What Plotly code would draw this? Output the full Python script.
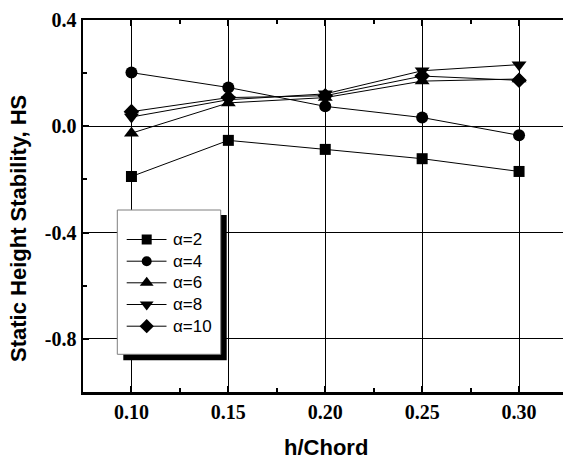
import plotly.graph_objects as go

# ---- data ----
h_chord = [0.10, 0.15, 0.20, 0.25, 0.30]
hs_a2 = [-0.189, -0.053, -0.087, -0.122, -0.170]
hs_a4 = [0.202, 0.146, 0.075, 0.033, -0.034]
hs_a6 = [-0.026, 0.088, 0.108, 0.170, 0.178]
hs_a8 = [0.035, 0.100, 0.122, 0.209, 0.232]
hs_a10 = [0.055, 0.108, 0.115, 0.189, 0.173]

names = ["α=2", "α=4", "α=6", "α=8", "α=10"]
values = [hs_a2, hs_a4, hs_a6, hs_a8, hs_a10]
symbols = ["square", "circle", "triangle-up", "triangle-down", "diamond"]
sizes = [11, 12, 13, 13, 12]
legend_sizes = [10, 10, 12, 12, 11]

x_ticks = [0.10, 0.15, 0.20, 0.25, 0.30]
x_tick_text = ["0.10", "0.15", "0.20", "0.25", "0.30"]
y_ticks = [-0.8, -0.4, 0.0, 0.4]
y_tick_text = ["-0.8", "-0.4", "0.0", "0.4"]

# ---- layout geometry (pixels) ----
W, H = 563, 460
L, R, T, B = 83, 0, 20, 68
PW, PH = W - L - R, H - T - B

fig = go.Figure()
for name, vals, sym, sz in zip(names, values, symbols, sizes):
    fig.add_trace(go.Scatter(
        x=h_chord, y=vals, name=name, mode="lines+markers", showlegend=False,
        line=dict(color="black", width=1),
        marker=dict(symbol=sym, size=sz, color="black"),
    ))

# ---- hand-made legend on an overlay axis measured in pixels ----
box = dict(x0=117.3, x1=220.7, y0=210, y1=354.3)
shadow_off = 6
entry_y = [239.5, 261.2, 282.8, 304.5, 326.2]
line_x0, line_x1, mark_x, text_x = 126.7, 166.5, 146.7, 171

def rect_xy(x0, x1, y0, y1):
    return [x0, x1, x1, x0, x0], [y0, y0, y1, y1, y0]

sx, sy = rect_xy(box["x0"] + shadow_off, box["x1"] + shadow_off,
                 box["y0"] + shadow_off - 1, box["y1"] + shadow_off)
fig.add_trace(go.Scatter(x=sx, y=sy, xaxis="x2", yaxis="y2", mode="lines",
                         fill="toself", fillcolor="black", line=dict(width=0, color="black"),
                         showlegend=False, hoverinfo="skip"))
bx, by = rect_xy(box["x0"], box["x1"], box["y0"], box["y1"])
fig.add_trace(go.Scatter(x=bx, y=by, xaxis="x2", yaxis="y2", mode="lines",
                         fill="toself", fillcolor="white", line=dict(width=1, color="#7f7f7f"),
                         showlegend=False, hoverinfo="skip"))
for name, sym, sz, ey in zip(names, symbols, legend_sizes, entry_y):
    fig.add_trace(go.Scatter(x=[line_x0, line_x1], y=[ey, ey], xaxis="x2", yaxis="y2",
                             mode="lines", line=dict(color="black", width=1),
                             showlegend=False, hoverinfo="skip"))
    fig.add_trace(go.Scatter(x=[mark_x], y=[ey], xaxis="x2", yaxis="y2", mode="markers",
                             marker=dict(symbol=sym, size=sz, color="black"),
                             showlegend=False, hoverinfo="skip"))
    fig.add_annotation(x=text_x, y=ey, xref="x2", yref="y2", text=name, showarrow=False,
                       xanchor="left", yanchor="middle",
                       font=dict(family="Liberation Sans", size=17, color="black"))

axis_common = dict(
    showline=True, linecolor="black", linewidth=2.5,
    ticks="inside", ticklen=6, tickwidth=2, tickcolor="black",
    showgrid=True, gridcolor="black", gridwidth=1,
    zeroline=False, automargin=False,
    tickfont=dict(family="Liberation Serif", size=20, color="black", weight="bold"),
    minor=dict(ticks="inside", ticklen=4, tickwidth=2, tickcolor="black", showgrid=False),
)

x_end = 0.075 + 0.05 * PW / 96.9
fig.update_layout(
    xaxis=dict(range=[0.075, x_end], tickmode="array", tickvals=x_ticks, ticktext=x_tick_text,
               minor_dtick=0.025, minor_tick0=0.075, mirror="ticks", **axis_common),
    yaxis=dict(range=[-1.0, 0.4], tickmode="array", tickvals=y_ticks, ticktext=y_tick_text,
               minor_dtick=0.2, minor_tick0=0.2, mirror=False, **axis_common),
    xaxis2=dict(range=[L, W - R], overlaying="x", visible=False, fixedrange=True),
    yaxis2=dict(range=[H - B, T], overlaying="y", visible=False, fixedrange=True),
)

# axis titles
fig.add_annotation(x=(19 - L) / PW, y=(H - B - 229) / PH, xref="paper", yref="paper",
                   text="Static Height Stability, HS", textangle=-90, showarrow=False,
                   xanchor="center", yanchor="middle",
                   font=dict(family="Liberation Sans", size=22, color="black", weight="bold"))
fig.add_annotation(x=(325.5 - L) / PW, y=(H - B - 447) / PH, xref="paper", yref="paper",
                   text="h/Chord", showarrow=False, xanchor="center", yanchor="middle",
                   font=dict(family="Liberation Sans", size=22, color="black", weight="bold"))

fig.update_layout(
    width=W, height=H,
    margin=dict(l=L, r=R, t=T, b=B, pad=0),
    plot_bgcolor="white", paper_bgcolor="white",
    showlegend=False,
)

fig.write_html(
    "out.html",
    config={"displayModeBar": False, "staticPlot": True},
    post_script="document.body.style.margin='0';document.body.style.padding='0';"
                "document.body.style.overflow='hidden';",
)
